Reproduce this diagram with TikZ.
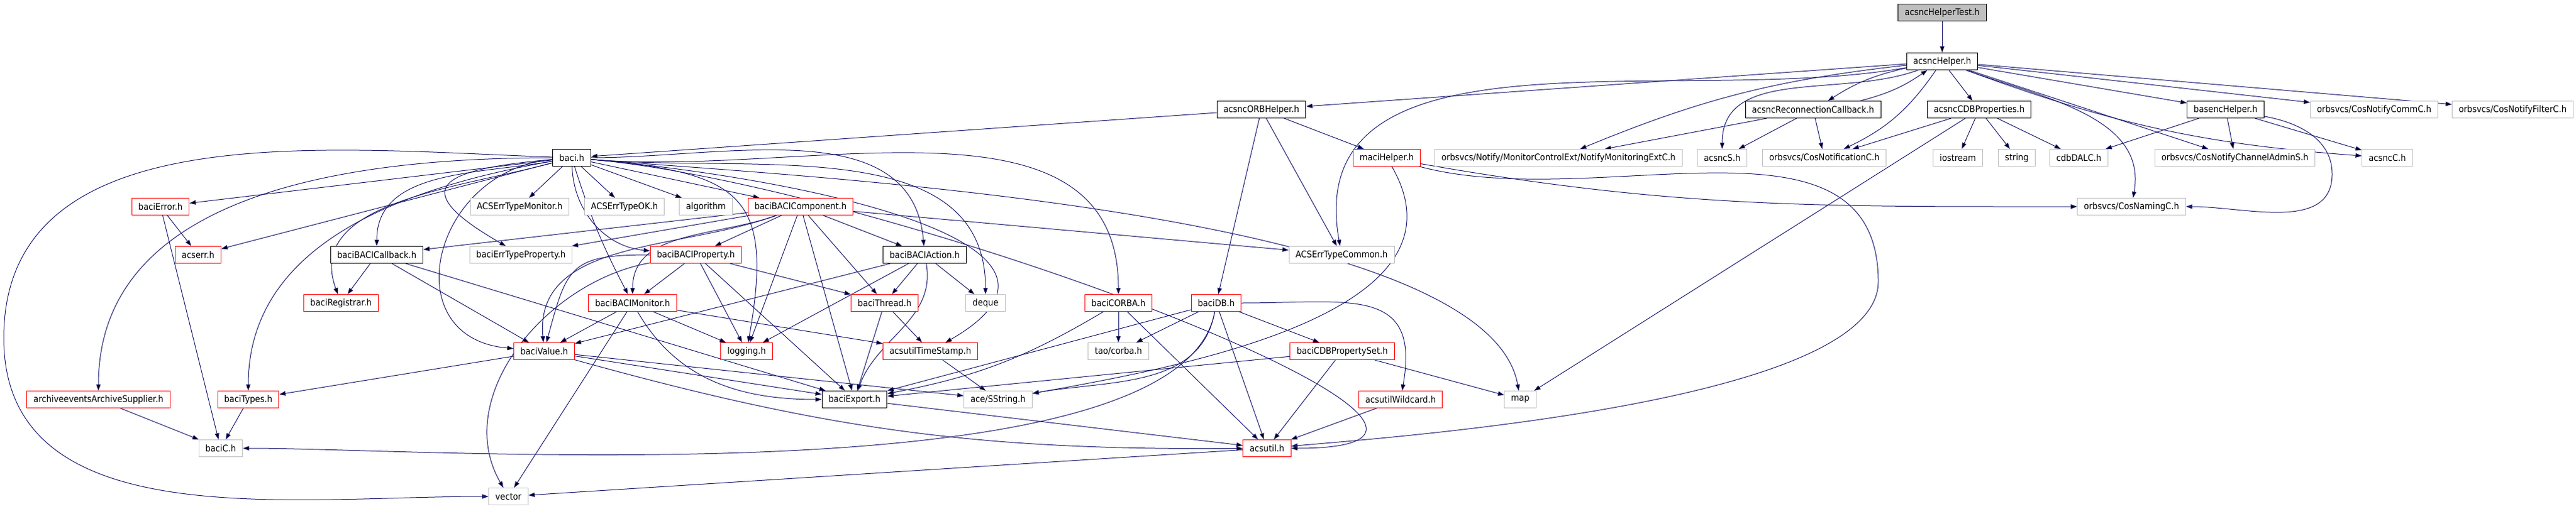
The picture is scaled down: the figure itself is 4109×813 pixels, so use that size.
\documentclass[tikz,border=0pt]{standalone}
\usepackage{fontspec}
\setmainfont{DejaVu Sans}[FakeStretch=0.9]
\usepackage{tikz}
\usetikzlibrary{arrows.meta, backgrounds}
\definecolor{edgeblue}{HTML}{191970}
\definecolor{sysgray}{HTML}{BFBFBF}
\definecolor{cutred}{HTML}{FF0000}

\tikzset{
    hfile/.style={draw=black, fill=white, text=black, rectangle, line width=0.25pt, minimum height=6.75pt,
        inner xsep=2.625pt, inner ysep=0pt, font=\fontsize{3.65pt}{4.25pt}\selectfont},
    hcut/.style={hfile, draw=cutred},
    hsys/.style={hfile, draw=sysgray},
    hroot/.style={hfile, fill=sysgray},
    dep/.style={draw=edgeblue, line width=0.25pt, -{Triangle[length=2.5pt,width=1.75pt]}}
}

\begin{document}
\begin{tikzpicture}[x=0.25pt, y=0.25pt]
        \useasboundingbox (0,0) rectangle (4109,-813);

        \node[hroot] (test)      at (3098,-20)  {acsncHelperTest.h};
        \node[hfile] (helper)    at (3098,-98)  {acsncHelper.h};
        \node[hfile] (orb)       at (2012,-175) {acsncORBHelper.h};
        \node[hfile] (recon)     at (2892,-175) {acsncReconnectionCallback.h};
        \node[hfile] (cdbprop)   at (3157,-175) {acsncCDBProperties.h};
        \node[hfile] (basenc)    at (3550,-175) {basencHelper.h};
        \node[hsys]  (commc)     at (3787,-175) {orbsvcs/CosNotifyCommC.h};
        \node[hsys]  (filterc)   at (4008,-175) {orbsvcs/CosNotifyFilterC.h};
        \node[hfile] (baci)      at (912,-252)  {baci.h};
        \node[hcut]  (maci)      at (2212,-252) {maciHelper.h};
        \node[hsys]  (monext)    at (2486,-252) {orbsvcs/Notify/MonitorControlExt/NotifyMonitoringExtC.h};
        \node[hsys]  (ncS)       at (2747,-252) {acsncS.h};
        \node[hsys]  (notifc)    at (2910,-252) {orbsvcs/CosNotificationC.h};
        \node[hsys]  (iostream)  at (3123,-252) {iostream};
        \node[hsys]  (string)    at (3217,-252) {string};
        \node[hsys]  (dalc)      at (3316,-252) {cdbDALC.h};
        \node[hsys]  (chadmin)   at (3565,-252) {orbsvcs/CosNotifyChannelAdminS.h};
        \node[hsys]  (ncC)       at (3808,-252) {acsncC.h};
        \node[hcut]  (err)       at (256,-330)  {baciError.h};
        \node[hsys]  (tmon)      at (829,-330)  {ACSErrTypeMonitor.h};
        \node[hsys]  (tok)       at (996,-330)  {ACSErrTypeOK.h};
        \node[hsys]  (algo)      at (1126,-330) {algorithm};
        \node[hcut]  (comp)      at (1277,-330) {baciBACIComponent.h};
        \node[hsys]  (naming)    at (3400,-330) {orbsvcs/CosNamingC.h};
        \node[hcut]  (acserr)    at (316,-407)  {acserr.h};
        \node[hfile] (cb)        at (601,-407)  {baciBACICallback.h};
        \node[hsys]  (etp)       at (831,-407)  {baciErrTypeProperty.h};
        \node[hcut]  (prop)      at (1110,-407) {baciBACIProperty.h};
        \node[hfile] (action)    at (1475,-407) {baciBACIAction.h};
        \node[hsys]  (errcommon) at (2140,-407) {ACSErrTypeCommon.h};
        \node[hcut]  (reg)       at (544,-484)  {baciRegistrar.h};
        \node[hcut]  (mon)       at (1009,-484) {baciBACIMonitor.h};
        \node[hcut]  (thread)    at (1411,-484) {baciThread.h};
        \node[hsys]  (deque)     at (1572,-484) {deque};
        \node[hcut]  (corba)     at (1784,-484) {baciCORBA.h};
        \node[hcut]  (db)        at (1940,-484) {baciDB.h};
        \node[hcut]  (value)     at (868,-561)  {baciValue.h};
        \node[hcut]  (logging)   at (1191,-561) {logging.h};
        \node[hcut]  (tstamp)    at (1484,-561) {acsutilTimeStamp.h};
        \node[hsys]  (tao)       at (1784,-561) {tao/corba.h};
        \node[hcut]  (cdbset)    at (2141,-561) {baciCDBPropertySet.h};
        \node[hcut]  (arch)      at (157,-638)  {archiveeventsArchiveSupplier.h};
        \node[hcut]  (types)     at (396,-638)  {baciTypes.h};
        \node[hfile] (export)    at (1363,-638) {baciExport.h};
        \node[hsys]  (sstring)   at (1592,-638) {ace/SString.h};
        \node[hcut]  (wild)      at (2234,-638) {acsutilWildcard.h};
        \node[hsys]  (map)       at (2425,-638) {map};
        \node[hsys]  (bacic)     at (352,-716)  {baciC.h};
        \node[hcut]  (acsutil)   at (2021,-716) {acsutil.h};
        \node[hsys]  (vector)    at (811,-793)  {vector};

        \coordinate (wl)    at (6,-540);
        \coordinate (mloop) at (2996,-450);
        \coordinate (bend1) at (3720,-278);

        \begin{scope}[on background layer]
        \draw[dep]
            (test) edge (helper)
            (helper) edge (orb)
            (helper) edge[out=190, in=100] (errcommon)
            (helper) edge[bend right=8] (monext)
            (helper) edge[out=200, in=90] (ncS)
            (helper) edge[bend right=10] (recon)
            (recon) edge[bend right=10] (helper)
            (helper) edge[bend left=15] (notifc)
            (helper) edge (cdbprop)
            (helper) edge (basenc)
            (helper) edge (commc)
            (helper) edge (filterc)
            (helper) edge (chadmin)
            (helper) edge[bend right=8] (ncC)
            (helper) edge[out=-20, in=80] (naming)
            (recon) edge (monext)
            (recon) edge (ncS)
            (recon) edge (notifc)
            (cdbprop) edge (notifc)
            (cdbprop) edge (iostream)
            (cdbprop) edge (string)
            (cdbprop) edge (dalc)
            (cdbprop) edge (map)
            (basenc) edge (dalc)
            (basenc) edge (chadmin)
            (basenc) edge (ncC)
            (orb) edge (baci)
            (orb) edge (maci)
            (orb) edge (db)
            (orb) edge (errcommon)
            (maci) edge[out=-10, in=180] (naming)
            (maci) edge[out=-60, in=10] (sstring)
            (baci) edge (tmon)
            (baci) edge (tok)
            (baci) edge (algo)
            (baci) edge (comp)
            (baci) edge (err)
            (baci) edge (acserr)
            (baci) edge[out=180, in=90] (arch)
            (baci) edge[out=190, in=90] (types)
            (baci) edge[out=190, in=90] (cb)
            (baci) edge[out=195, in=110] (reg)
            (baci) edge[out=185, in=150, looseness=3] (etp)
            (baci) edge[out=-88, in=175] (prop)
            (baci) edge[bend right=5] (mon)
            (baci) edge[out=185, in=175, looseness=1.6] (value)
            (baci) edge[out=-5, in=80, looseness=1.6] (logging)
            (baci) edge[out=0, in=95] (action)
            (baci) edge[out=-5, in=90] (deque)
            (baci) edge[out=-5, in=30, looseness=1.3] (tstamp)
            (baci) edge[out=-5, in=90] (corba)
            (baci) edge[out=-5, in=100, looseness=0.5] (map)
            (baci) edge[out=-5, in=0] (acsutil)
            (err) edge (acserr)
            (err) edge (bacic)
            (arch) edge (bacic)
            (types) edge (bacic)
            (cb) edge (reg)
            (cb) edge (value)
            (cb) edge (export)
            (comp) edge (cb)
            (comp) edge (etp)
            (comp) edge (prop)
            (comp) edge[out=200, in=90] (mon)
            (comp) edge[out=200, in=95] (value)
            (comp) edge (logging)
            (comp) edge (export)
            (comp) edge (thread)
            (comp) edge (action)
            (comp) edge (errcommon)
            (prop) edge (mon)
            (prop) edge[out=180, in=75, looseness=1.5] (value)
            (prop) edge (logging)
            (prop) edge (export)
            (prop) edge (thread)
            (prop) edge[out=190, in=120] (vector)
            (mon) edge (value)
            (mon) edge (logging)
            (mon) edge[out=-60, in=180] (export)
            (mon) edge (vector)
            (mon) edge (tstamp)
            (action) edge (thread)
            (action) edge (deque)
            (action) edge[out=-80, in=70] (export)
            (action) edge (logging)
            (action) edge (value)
            (thread) edge (tstamp)
            (thread) edge (export)
            (tstamp) edge (sstring)
            (value) edge (types)
            (value) edge (export)
            (value) edge (sstring)
            (value) edge[bend right=8] (acsutil)
            (corba) edge (tao)
            (corba) edge[bend left=10] (export)
            (corba) edge (acsutil)
            (db) edge (tao)
            (db) edge (export)
            (db) edge[out=-100, in=10] (sstring)
            (db) edge[out=-100, in=0, looseness=0.5] (bacic)
            (db) edge (acsutil)
            (db) edge (cdbset)
            (db) edge[out=0, in=80, looseness=1.5] (wild)
            (cdbset) edge (export)
            (cdbset) edge (acsutil)
            (cdbset) edge (map)
            (wild) edge (acsutil)
            (export) edge (acsutil)
            (acsutil) edge (vector)
            ;
        \draw[dep] (basenc) to[out=-10, in=90] (bend1) to[out=-90, in=0] (naming);
        \draw[dep] (maci) to[out=-15, in=90] (mloop) to[out=-90, in=5, looseness=0.5] (acsutil);
        \draw[dep] (baci) to[out=178, in=90] (wl) to[out=-90, in=180] (vector);
        \end{scope}
\end{tikzpicture}
\end{document}
